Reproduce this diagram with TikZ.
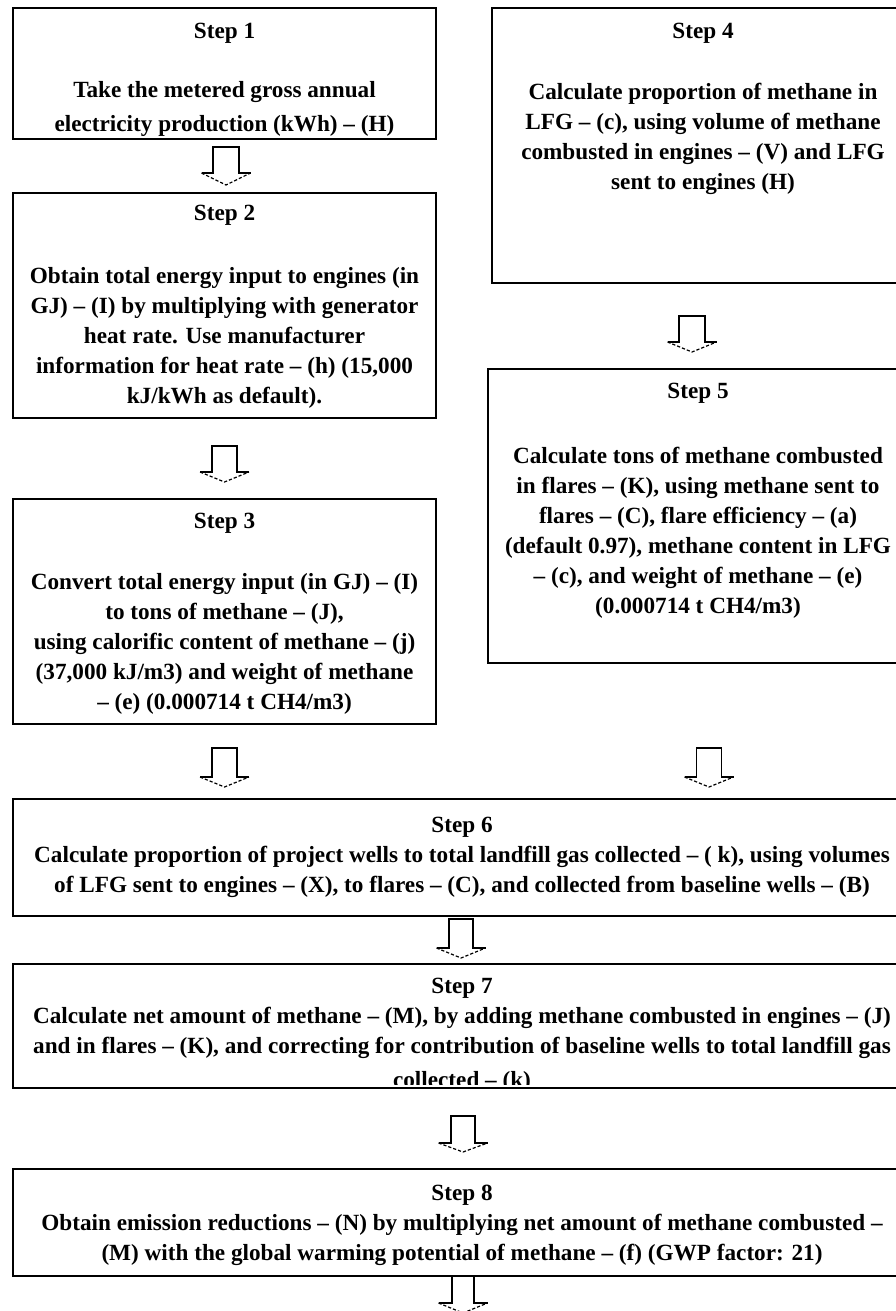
\documentclass[tikz,border=0pt]{standalone}
\usepackage{fontspec}
\setmainfont{Liberation Serif}
\usetikzlibrary{fit}
\newcommand{\dnarrow}[4]{% #1 top coordinate, #2 half shaft width, #3 shaft length, #4 head height
  \draw[arrowline] ([shift={(-24.5,#3)}]#1) -- ([shift={(-#2,#3)}]#1) -- ([shift={(-#2,0)}]#1)
     -- ([shift={(#2,0)}]#1) -- ([shift={(#2,#3)}]#1) -- ([shift={(24.5,#3)}]#1);
  \draw[arrowhd] ([shift={(-24.5,#3)}]#1) -- ([shift={(0,#3+#4)}]#1) -- ([shift={(24.5,#3)}]#1);
}
\begin{document}
\begin{tikzpicture}[x=0.5pt,y=-0.5pt,
  stepbox/.style={draw=black, line width=1pt, inner sep=0pt},
  lbl/.style={inner sep=0pt, font=\fontsize{11.6pt}{15pt}\selectfont\bfseries},
  body/.style={inner sep=0pt, align=center, font=\fontsize{11.6pt}{15pt}\selectfont\bfseries},
  arrowline/.style={draw=black, line width=0.7pt, line join=miter},
  arrowhd/.style={draw=black, line width=0.6pt, dash pattern=on 1.6pt off 1pt}]
\useasboundingbox (0,0) rectangle (895,1311);
\fill[white] (0,0) rectangle (895,1311);

% boxes
\node[stepbox, fit={(13,8) (436,139)}] (s1) {};
\node[stepbox, fit={(13,193) (436,418)}] (s2) {};
\node[stepbox, fit={(13,499) (436,724)}] (s3) {};
\node[stepbox, fit={(492,8) (914,283)}] (s4) {};
\node[stepbox, fit={(488,369) (908,663)}] (s5) {};
\node[stepbox, fit={(13,799) (911,916)}] (s6) {};
\node[stepbox, fit={(13,964) (911,1088)}] (s7) {};
\node[stepbox, fit={(13,1169) (911,1276)}] (s8) {};

% texts
\node[lbl] (l1) at (224.5,33) {Step 1};
\node[body] (b1) at (224.5,109) {Take the metered gross annual\\[2pt]electricity production (kWh) – (H)};

\node[lbl] (l2) at (224.5,215) {Step 2};
\node[body] (b2) at (224.5,338) {Obtain total energy input to engines (in\\GJ) – (I) by multiplying with generator\\heat rate. Use manufacturer\\information for heat rate – (h) (15,000\\kJ/kWh as default).};

\node[lbl] (l3) at (224.5,523) {Step 3};
\node[body] (b3) at (224.5,644) {Convert total energy input (in GJ) – (I)\\to tons of methane – (J),\\using calorific content of methane – (j)\\(37,000 kJ/m3) and weight of methane\\– (e) (0.000714 t CH4/m3)};

\node[lbl] (l4) at (703,33) {Step 4};
\node[body] (b4) at (703,139) {Calculate proportion of methane in\\LFG – (c), using volume of methane\\combusted in engines – (V) and LFG\\sent to engines (H)};

\node[lbl] (l5) at (698,393) {Step 5};
\node[body] (b5) at (698,533) {Calculate tons of methane combusted\\in flares – (K), using methane sent to\\flares – (C), flare efficiency – (a)\\(default 0.97), methane content in LFG\\– (c), and weight of methane – (e)\\(0.000714 t CH4/m3)};

\node[lbl] (l6) at (462,827) {Step 6};
\node[body] (b6) at (462,872) {Calculate proportion of project wells to total landfill gas collected – ( k), using volumes\\of LFG sent to engines – (X), to flares – (C), and collected from baseline wells – (B)};

\node[lbl, anchor=base] (l7) at (462,993) {Step 7};
\node[lbl, anchor=base] (b7a) at (462,1023) {Calculate net amount of methane – (M), by adding methane combusted in engines – (J)};
\node[lbl, anchor=base] (b7b) at (462,1053) {and in flares – (K), and correcting for contribution of baseline wells to total landfill gas};
\begin{scope}
  \clip (13,964) rectangle (911,1084);
  \node[lbl, anchor=base] (b7c) at (462,1087) {collected – (k)};
\end{scope}

\node[lbl] (l8) at (462,1195) {Step 8};
\node[body] (b8) at (462,1240) {Obtain emission reductions – (N) by multiplying net amount of methane combusted –\\(M) with the global warming potential of methane – (f) (GWP factor: 21)};

% block arrows
\coordinate (a1) at (226,147);
\coordinate (a2) at (224.5,446);
\coordinate (aL) at (224.5,748);
\coordinate (a4) at (692,316);
\coordinate (aR) at (709,748);
\coordinate (a6) at (461,919);
\coordinate (a7) at (463,1116);
\coordinate (a8) at (463,1276);
\dnarrow{a1}{13}{26}{12}
\dnarrow{a2}{12.5}{26}{10}
\dnarrow{aL}{12.5}{29}{10}
\dnarrow{a4}{13}{26}{10}
\dnarrow{aR}{12.5}{29}{10}
\dnarrow{a6}{12}{29}{10}
\dnarrow{a7}{12}{27}{9}
\dnarrow{a8}{11}{27}{10}
\end{tikzpicture}
\end{document}
